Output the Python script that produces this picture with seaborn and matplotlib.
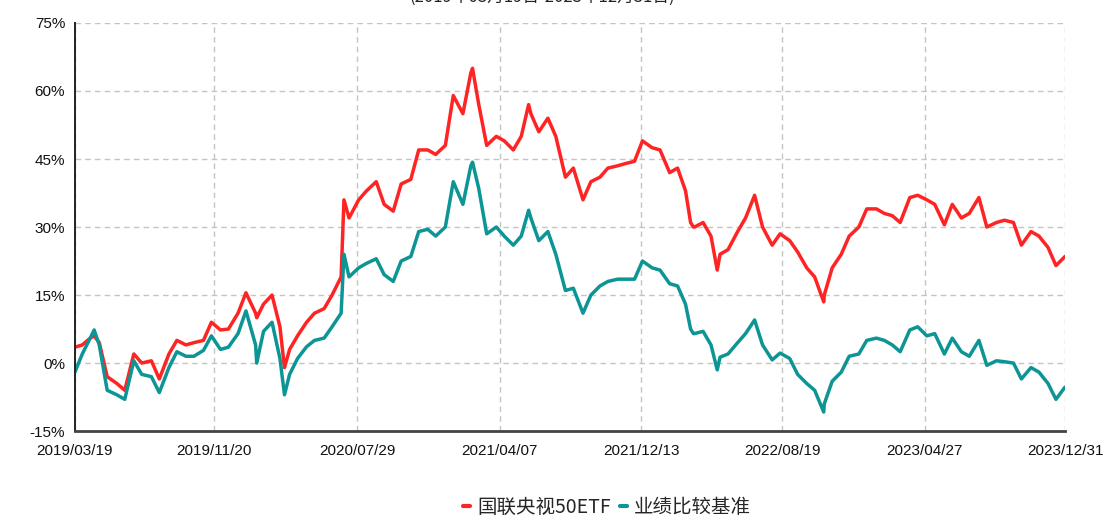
import numpy as np
import pandas as pd
import matplotlib.pyplot as plt
import matplotlib.dates as mdates
from matplotlib.ticker import FuncFormatter
import seaborn as sns

sns.set_theme(style='white')
plt.rcParams['font.family'] = ['Liberation Sans', 'Noto Sans CJK SC', 'DejaVu Sans']

# %% Data (semi-monthly samples)
base_dates = (['2019-03-19']
              + [d.strftime('%Y-%m-%d') for d in pd.date_range('2019-04-01', '2023-12-15', freq='SMS')]
              + ['2023-12-31'])

fund_ret = [3.5, 4, 5.5, 4.5, -3, -4.5, -6, 2, 0, 0.5, -3.5, 2, 5, 4, 4.5, 5, 9, 7.3, 7.5,
            11, 15.5, 11, 13, 15, 8, 3, 6, 9, 11, 12, 15, 19, 32,
            36, 38, 40, 35, 33.5, 39.5, 40.5, 47, 47, 46,
            48, 59, 55, 64, 57, 48, 50, 49, 47, 50, 55, 51, 54, 50, 41, 43, 36, 40, 41, 43, 43.5, 44, 44.5, 49,
            47.5, 47, 42, 43, 38, 30, 31, 28, 24, 25, 29, 32, 37, 30, 26, 28.5, 27, 24.5, 21, 19, 15, 21, 24, 28,
            30, 34, 34, 33, 32.5, 31, 36.5, 37, 36, 35, 30.5, 35, 32, 33, 36.5, 30, 31, 31.5, 31, 26, 29, 28, 25.5, 21.5,
            23.5]

bench_ret = [-2, 2, 5.5, 4, -6, -7, -8, 0.5, -2.5, -3, -6.5, -1, 2.5, 1.5, 1.5, 2.8, 6, 3, 3.5,
             6.5, 11.5, 4, 7, 9, 1, -2.5, 1, 3.6, 5, 5.5, 8, 11, 19,
             21, 22, 23, 19.5, 18, 22.5, 23.5, 29, 29.5, 28,
             30, 40, 35, 43.5, 38.5, 28.5, 30, 28, 26, 28, 32, 27, 29, 24, 16, 16.5, 11, 15, 17, 18, 18.5, 18.5, 18.5, 22.5,
             21, 20.5, 17.5, 17, 13, 6.5, 7, 4, 1.3, 2, 4.5, 6.5, 9.5, 4, 0.7, 2.2, 1, -2.5, -4.5, -6, -9, -4, -2, 1.5,
             2, 5, 5.5, 5, 4, 2.5, 7.3, 8, 6, 6.5, 2, 5.5, 2.5, 1.5, 5, -0.5, 0.5, 0.3, 0, -3.5, -1, -2, -4.5, -8,
             -5.3]

# sharp single-day moves
spike_dates = ['2019-04-22', '2020-02-03', '2020-03-23', '2020-07-06', '2021-02-18',
               '2021-05-28', '2022-03-10', '2022-03-17', '2022-04-26', '2022-10-31']
spike_fund = [6, 10, -1, 36, 65, 57, 31, 30, 20.5, 13.5]
spike_bench = [7.3, 0, -7, 24, 44.3, 33.7, 7.5, 6.5, -1.5, -10.8]

fund_name = '国联央视50ETF'
bench_name = '业绩比较基准'
tick_dates = ['2019-03-19', '2019-11-20', '2020-07-29', '2021-04-07',
              '2021-12-13', '2022-08-19', '2023-04-27', '2023-12-31']
y_ticks = [-15, 0, 15, 30, 45, 60, 75]

# %% Build long table
all_dates = pd.to_datetime(base_dates + spike_dates)
wide = pd.DataFrame({'date': all_dates,
                     fund_name: fund_ret + spike_fund,
                     bench_name: bench_ret + spike_bench})
wide = wide.sort_values('date').reset_index(drop=True)
df = wide.melt(id_vars='date', var_name='series', value_name='ret')

# %% Plot
fig = plt.figure(figsize=(11.18, 5.2), dpi=100)
ax = fig.add_axes([0.067, 0.171, 0.8856, 0.7848])

red = '#fe2424'
teal = '#0d9595'
sns.lineplot(data=df, x='date', y='ret', hue='series', palette=[red, teal],
             linewidth=2.5, ax=ax, legend=False)

ax.set_xlim(pd.Timestamp('2019-03-19'), pd.Timestamp('2023-12-31'))
ax.set_ylim(-15, 75)
ax.set_xticks(pd.to_datetime(tick_dates))
ax.xaxis.set_major_formatter(mdates.DateFormatter('%Y/%m/%d'))
ax.set_yticks(y_ticks)
ax.yaxis.set_major_formatter(FuncFormatter(lambda v, p: f'{v:.0f}%'))

ax.grid(True, linestyle=(0, (4, 3)), color='#c4c4c4', linewidth=1.0)
ax.set_axisbelow(True)
for s in ['top', 'right']:
    ax.spines[s].set_visible(False)
ax.spines['left'].set_color('#222222')
ax.spines['left'].set_linewidth(1.4)
ax.spines['bottom'].set_color('#444444')
ax.spines['bottom'].set_linewidth(2.0)
ax.tick_params(axis='both', which='major', length=5, width=1, color='#333333',
               labelsize=11, labelcolor='#111111', direction='out', pad=2)
ax.tick_params(axis='x', pad=4)
ax.set_xlabel('')
ax.set_ylabel('')

handles = [plt.Line2D([], [], color=red, linewidth=3),
           plt.Line2D([], [], color=teal, linewidth=3)]
fig.legend(handles, [fund_name, bench_name], loc='center', bbox_to_anchor=(0.543, 0.024),
           ncol=2, frameon=False, handlelength=0.35, handletextpad=0.35, columnspacing=0.5,
           prop={'family': ['Noto Sans CJK SC'], 'size': 14})

fig.text(0.485, 1.005, '(2019年03月19日-2023年12月31日)', ha='center', va='center',
         fontsize=12, color='#222222', family=['Noto Sans CJK SC', 'DejaVu Sans'])

fig.savefig('out.png', dpi=100)
